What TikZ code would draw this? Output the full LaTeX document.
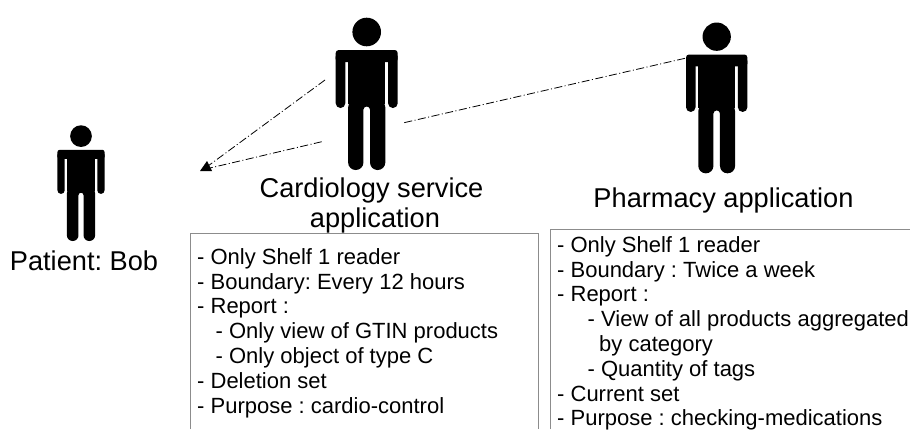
\documentclass[tikz,border=0pt]{standalone}
\usepackage{fontspec}
\setmainfont{Liberation Sans}
\definecolor{boxgrey}{HTML}{8C8C8C}
\tikzset{
  x=1pt,y=-1pt,
  pics/person/.style={code={
    \fill (0,-138) circle (14.3);
    \fill[rounded corners={3pt*#1}] (-31,-120) rectangle (31,-108);
    \fill[rounded corners={4.7pt*#1}] (-31,-118) rectangle (-21.4,-62);
    \fill[rounded corners={4.7pt*#1}] (21.4,-118) rectangle (31,-62);
    \fill (-18.6,-120) rectangle (18.6,-66);
    \fill[rounded corners={7.5pt*#1}] (-18.6,-70) -- (-18.6,0) -- (-3.3,0)
      [rounded corners={3.2pt*#1}] -- (-3.3,-63.5) -- (3.3,-63.5)
      [rounded corners={7.5pt*#1}] -- (3.3,0) -- (18.6,0) -- (18.6,-70) -- cycle;
  }},
  linkline/.style={line width=0.8pt,dash pattern=on 8pt off 2.5pt on 1pt off 2.5pt},
  caption/.style={font=\frenchspacing\fontsize{27.2}{30.5}\selectfont,align=center,inner sep=0pt,anchor=base},
  listing/.style={font=\frenchspacing\fontsize{22}{24.8}\selectfont,align=left,inner sep=0pt,anchor=base west},
  framing/.style={draw=boxgrey,line width=1pt},
}
\begin{document}
\begin{tikzpicture}
\useasboundingbox (0,0) rectangle (910,429);
\pic at (81,241) [scale=0.76] {person={0.76}};
\pic at (366.7,170) {person={1}};
\pic at (716.7,173.3) [scale=0.99] {person={0.99}};

\coordinate (tipA) at (208,166);
\coordinate (tipB) at (210,168);
\coordinate (cardA) at (325,80);
\coordinate (cardB) at (321.7,141.7);
\coordinate (pharmEnd) at (685,58.3);
\coordinate (cardC) at (404,122.7);
\draw[linkline] (cardA) -- (tipA);
\draw[linkline] (cardB) -- (tipB);
\draw[linkline] (pharmEnd) -- (cardC);
\fill (200,171) -- (212,171) -- (207,161) -- cycle;

\node[caption] (bob) at (84,270) {Patient: Bob};
\node[caption] (card1) at (371.5,197) {Cardiology service};
\node[caption] (card2) at (375,227.5) {application};
\node[caption] (pharm) at (723.5,207) {Pharmacy application};

\draw[framing] (190,429) -- (190,233.7) -- (538.7,233.7) -- (538.7,429);
\draw[framing] (550,429) -- (550,229.3) -- (910,229.3);

\node[listing] (list1) at (197,264.3) {- Only Shelf 1 reader};
\node[listing] (list1b) at (197,289.1) {- Boundary: Every 12 hours};
\node[listing] (list1c) at (197,313.9) {- Report :};
\node[listing] (list1d) at (215.5,338.8) {- Only view of GTIN products};
\node[listing] (list1e) at (215.5,363.6) {- Only object of type C};
\node[listing] (list1f) at (197,388.4) {- Deletion set};
\node[listing] (list1g) at (197,413.2) {- Purpose : cardio-control};

\node[listing] (list2) at (557,252.3) {- Only Shelf 1 reader};
\node[listing] (list2b) at (557,277.1) {- Boundary : Twice a week};
\node[listing] (list2c) at (557,301.9) {- Report :};
\node[listing] (list2d) at (587.5,326.7) {- View of all products aggregated};
\node[listing] (list2e) at (599,351.5) {by category};
\node[listing] (list2f) at (587.5,376.3) {- Quantity of tags};
\node[listing] (list2g) at (557,401.1) {- Current set};
\node[listing] (list2h) at (557,425.9) {- Purpose : checking-medications};
\end{tikzpicture}
\end{document}
